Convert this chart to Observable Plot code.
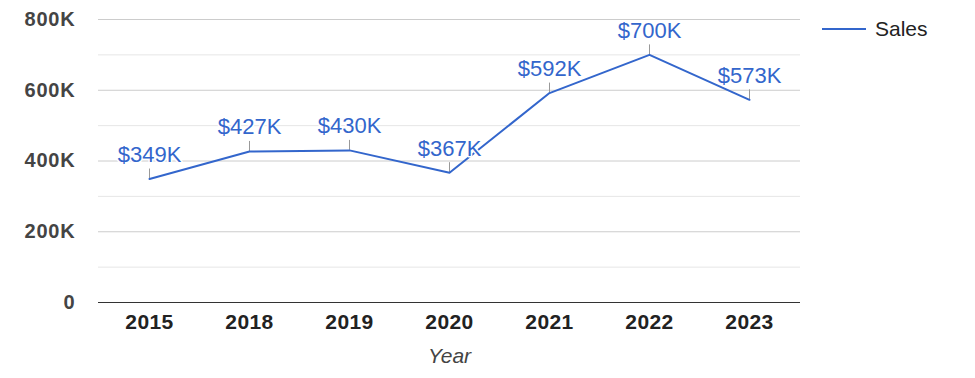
<!DOCTYPE html>
<html>
<head>
<meta charset="utf-8">
<script src="https://cdn.jsdelivr.net/npm/d3@7"></script>
<script src="https://cdn.jsdelivr.net/npm/@observablehq/plot@0.6"></script>
<style>
  html, body { margin: 0; padding: 0; background: #fff; }
  #wrap { position: relative; width: 975px; height: 378px; font-family: "Liberation Sans", Arial, sans-serif; }
  #legend { position: absolute; left: 822px; top: 17px; display: flex; align-items: center; font-size: 21px; color: #222; }
  #legend .swatch { width: 44px; height: 2px; background: #3366cc; margin-right: 9px; }
  svg .ytick text { letter-spacing: 0.8px; }
  svg .xtick text { letter-spacing: 0.4px; }
</style>
</head>
<body>
<div id="wrap"><div id="legend"><span class="swatch"></span><span>Sales</span></div></div>
<script>
const years = ["2015", "2018", "2019", "2020", "2021", "2022", "2023"];
const sales = [349000, 427000, 430000, 367000, 592000, 700000, 573000];
const majorTicks = [0, 200000, 400000, 600000, 800000];
const minorTicks = [100000, 300000, 500000, 700000];
const seriesName = "Sales";
const xTitle = "Year";

const data = years.map((y, i) => ({year: y, value: sales[i]}));
const fmtTick = d => d === 0 ? "0" : (d / 1000) + "K";
const fmtVal = d => "$" + Math.round(d / 1000) + "K";
const blue = "#3366cc";

const chart = Plot.plot({
  width: 975,
  height: 378,
  marginLeft: 98,
  marginRight: 175,
  marginTop: 19,
  marginBottom: 76,
  style: {fontFamily: "'Liberation Sans', Arial, sans-serif", background: "transparent"},
  x: {type: "point", domain: years, padding: 0.5, label: null},
  y: {domain: [0, 800000], label: null},
  marks: [
    Plot.ruleY(minorTicks, {stroke: "#e6e6e6", strokeWidth: 1}),
    Plot.ruleY(majorTicks.filter(d => d !== 0), {stroke: "#cccccc", strokeWidth: 1}),
    Plot.axisY({ticks: majorTicks, tickFormat: fmtTick, tickSize: 0, tickPadding: 23,
      fontSize: 20, fontWeight: "bold", fill: "#444", label: null, className: "ytick"}),
    Plot.axisX({tickSize: 0, tickPadding: 12, fontSize: 21, fontWeight: "bold", fill: "#222", label: null, className: "xtick"}),
    Plot.ruleY([0], {stroke: "#333", strokeWidth: 1.2}),
    Plot.ruleX(data, {x: "year", y1: "value", y2: "value", insetTop: -10, stroke: "#999", strokeWidth: 1}),
    Plot.line(data, {x: "year", y: "value", stroke: blue, strokeWidth: 2}),
    Plot.text(data, {x: "year", y: "value", text: d => fmtVal(d.value), dy: -24,
      fontSize: 22, fill: blue, stroke: "white", strokeWidth: 3, lineAnchor: "middle"}),
    Plot.text([xTitle], {frameAnchor: "bottom", dy: 54, lineAnchor: "middle",
      fontSize: 21, fontStyle: "italic", fill: "#444"})
  ]
});
document.getElementById("wrap").prepend(chart);
chart.style.position = "absolute";
chart.style.left = "0";
chart.style.top = "0";
</script>
</body>
</html>
